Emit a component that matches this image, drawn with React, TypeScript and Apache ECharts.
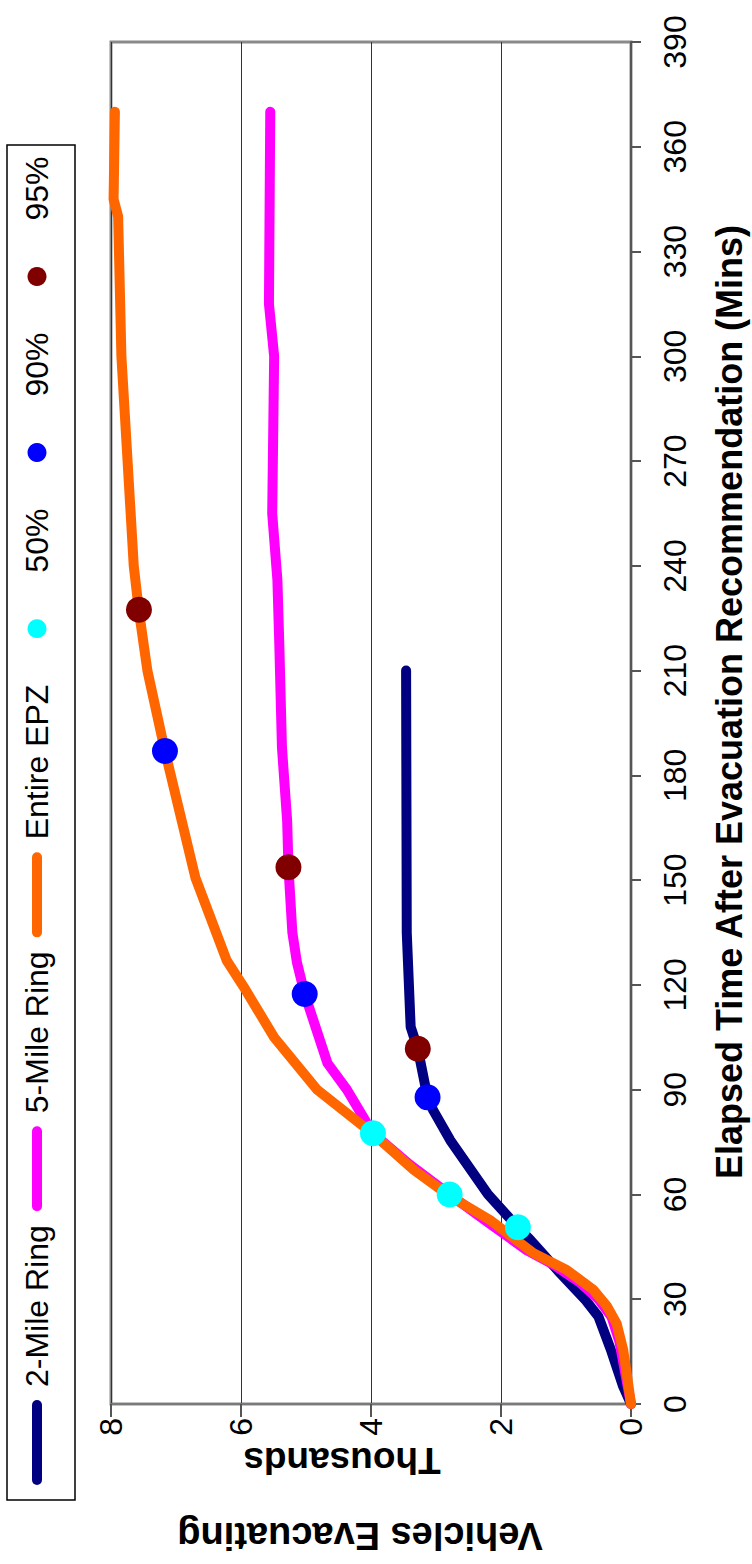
import React, { useEffect, useRef } from "react";
import * as echarts from "echarts";

// ---- data (time in minutes, vehicles in thousands) ----
const timeTicks = [0, 30, 60, 90, 120, 150, 180, 210, 240, 270, 300, 330, 360, 390];
const vehicleTicks = [0, 2, 4, 6, 8];

const twoMileTime = [0, 5, 15, 25, 30, 37.5, 47, 50.6, 60, 75.5, 84, 87.8, 101.7, 108, 135, 210];
const twoMileVehicles = [0, 0.12, 0.3, 0.5, 0.71, 1.09, 1.55, 1.74, 2.2, 2.78, 3.04, 3.13, 3.28, 3.39, 3.45, 3.46];

const fiveMileTime = [0, 10, 18, 25, 30, 35, 40, 44, 52, 60, 68.5, 77.5, 90, 97.6, 117.4, 126.5, 135, 153.7, 167, 188, 217, 236, 255, 300, 315, 370];
const fiveMileVehicles = [0, 0.1, 0.18, 0.3, 0.5, 0.8, 1.2, 1.6, 2.2, 2.79, 3.4, 3.97, 4.37, 4.67, 5.02, 5.14, 5.21, 5.27, 5.29, 5.37, 5.41, 5.44, 5.52, 5.49, 5.57, 5.55];

const epzTime = [0, 8, 15.5, 23, 28, 32.7, 38.4, 43.2, 52.7, 59.4, 67, 75.6, 79.4, 90, 105, 119.5, 127, 150.6, 187, 210, 227, 240, 300, 340, 345, 370];
const epzVehicles = [0, 0.06, 0.12, 0.22, 0.37, 0.58, 0.99, 1.5, 2.17, 2.78, 3.34, 3.86, 4.11, 4.83, 5.49, 5.96, 6.22, 6.7, 7.17, 7.44, 7.57, 7.65, 7.84, 7.89, 7.96, 7.94];

// percentile markers: [2-Mile, 5-Mile, Entire EPZ]
const p50Time = [50.6, 60, 77.5];
const p50Vehicles = [1.74, 2.79, 3.97];
const p90Time = [87.8, 117.4, 187];
const p90Vehicles = [3.13, 5.02, 7.17];
const p95Time = [101.7, 153.7, 227.4];
const p95Vehicles = [3.28, 5.27, 7.57];

const lineNames = ["2-Mile Ring", "5-Mile Ring", "Entire EPZ"];
const dotNames = ["50%", "90%", "95%"];
const lineColors = ["#000080", "#FF00FF", "#FF6600"];
const dotColors = ["#00FFFF", "#0000FF", "#800000"];

const xTitle = "Elapsed Time After Evacuation Recommendation (Mins)";
const yTitle = "Vehicles Evacuating";
const yUnit = "Thousands";

const FONT = "'Liberation Sans', Arial, sans-serif";

const zip = (t: number[], v: number[]) => t.map((tt, i) => [v[i], tt]);

export default function App() {
  const ref = useRef<HTMLDivElement>(null);
  useEffect(() => {
    if (!ref.current) return;
    const chart = echarts.init(ref.current, undefined, { renderer: "svg" });

    const lineData = [
      zip(twoMileTime, twoMileVehicles),
      zip(fiveMileTime, fiveMileVehicles),
      zip(epzTime, epzVehicles),
    ];
    const dotData = [
      zip(p50Time, p50Vehicles),
      zip(p90Time, p90Vehicles),
      zip(p95Time, p95Vehicles),
    ];

    // legend (rotated group, laid out along local x which maps to screen "up")
    const legendFont = 32;
    const textW = (s: string) =>
      (echarts.format as any).getTextRect
        ? (echarts.format as any).getTextRect(s, `${legendFont}px ${FONT}`).width
        : s.length * legendFont * 0.5;
    const legendChildren: any[] = [];
    legendChildren.push({
      type: "rect",
      shape: { x: 0, y: -30, width: 1355, height: 68 },
      style: { fill: "#fff", stroke: "#000", lineWidth: 1.5 },
    });
    let pos = 15;
    const items = [
      ...lineNames.map((n, i) => ({ name: n, kind: "line", color: lineColors[i] })),
      ...dotNames.map((n, i) => ({ name: n, kind: "dot", color: dotColors[i] })),
    ];
    items.forEach((it) => {
      if (it.kind === "line") {
        legendChildren.push({
          type: "line",
          shape: { x1: pos + 5, y1: 0, x2: pos + 80, y2: 0 },
          style: { stroke: it.color, lineWidth: 10, lineCap: "round" },
        });
      } else {
        legendChildren.push({
          type: "circle",
          shape: { cx: pos + 42, cy: 0, r: 9.5 },
          style: { fill: it.color },
        });
      }
      const tx = pos + 98;
      legendChildren.push({
        type: "text",
        x: tx,
        y: 0,
        style: {
          text: it.name,
          font: `${legendFont}px ${FONT}`,
          fill: "#000",
          textAlign: "left",
          textVerticalAlign: "middle",
        },
      });
      pos = tx + textW(it.name) + 14;
    });

    chart.setOption({
      animation: false,
      backgroundColor: "#fff",
      grid: {
        left: 111,
        right: 121,
        top: 42,
        bottom: 160,
        show: true,
        borderColor: "#8a8a8a",
        borderWidth: 3,
        backgroundColor: "transparent",
      },
      xAxis: {
        type: "value",
        inverse: true,
        min: 0,
        max: 8,
        interval: 2,
        position: "bottom",
        axisLine: { show: true, onZero: false, lineStyle: { color: "#7a7a7a", width: 2 } },
        axisTick: { show: true, length: 13, lineStyle: { color: "#555", width: 2 } },
        axisLabel: {
          rotate: 90,
          margin: 14,
          fontSize: 32,
          fontFamily: FONT,
          color: "#000",
          formatter: (v: number) => (vehicleTicks.includes(v) ? String(v) : ""),
        },
        splitLine: { show: true, lineStyle: { color: "#333", width: 1 } },
      },
      yAxis: {
        type: "value",
        min: 0,
        max: 390,
        interval: 30,
        position: "right",
        axisLine: { show: true, onZero: false, lineStyle: { color: "#555", width: 2 } },
        axisTick: { show: true, length: 10, lineStyle: { color: "#555", width: 2 } },
        axisLabel: {
          rotate: 90,
          margin: 28,
          fontSize: 32,
          fontFamily: FONT,
          color: "#000",
          formatter: (v: number) => (timeTicks.includes(v) ? String(v) : ""),
        },
        splitLine: { show: false },
      },
      series: [
        ...lineNames.map((n, i) => ({
          name: n,
          type: "line",
          data: lineData[i],
          showSymbol: false,
          symbol: "none",
          z: 2 + i,
          lineStyle: { color: lineColors[i], width: 10, cap: "round", join: "round" },
        })),
        ...dotNames.map((n, i) => ({
          name: n,
          type: "scatter",
          data: dotData[i],
          symbol: "circle",
          symbolSize: 26,
          z: 10,
          itemStyle: { color: dotColors[i], opacity: 1 },
        })),
      ],
      graphic: [
        {
          type: "group",
          x: 37,
          y: 1500,
          rotation: Math.PI / 2,
          children: legendChildren,
        },
        {
          type: "text",
          x: 729,
          y: 702,
          rotation: Math.PI / 2,
          style: {
            text: xTitle,
            font: `bold 36px ${FONT}`,
            fill: "#000",
            textAlign: "center",
            textVerticalAlign: "middle",
          },
        },
        {
          type: "text",
          x: 342,
          y: 1460,
          rotation: Math.PI,
          style: {
            text: yUnit,
            font: `bold 37px ${FONT}`,
            fill: "#000",
            textAlign: "center",
            textVerticalAlign: "middle",
          },
        },
        {
          type: "text",
          x: 360,
          y: 1536,
          rotation: Math.PI,
          style: {
            text: yTitle,
            font: `bold 38px ${FONT}`,
            fill: "#000",
            textAlign: "center",
            textVerticalAlign: "middle",
          },
        },
      ],
    });
    return () => chart.dispose();
  }, []);
  return (
    <div
      ref={ref}
      style={{ position: "absolute", left: 0, top: 0, width: 752, height: 1564, background: "#fff" }}
    />
  );
}
